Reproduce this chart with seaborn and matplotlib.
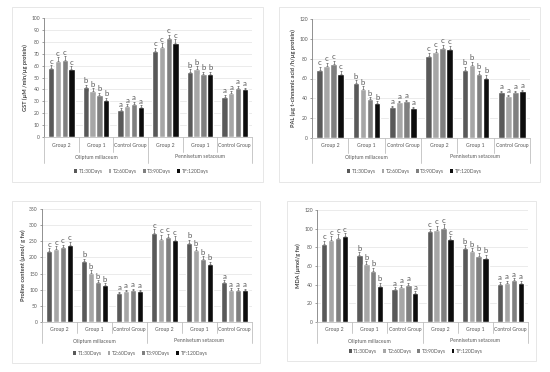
import matplotlib
matplotlib.use("Agg")
import matplotlib.pyplot as plt
import seaborn as sns
import pandas as pd
from matplotlib.patches import Rectangle, Patch
from matplotlib.container import BarContainer

# ---------------- data ----------------
categories = ["Group 2", "Group 1", "Control Group", "Group 2 ", "Group 1 ", "Control Group "]
cat_labels = ["Group 2", "Group 1", "Control Group", "Group 2", "Group 1", "Control Group"]
species = ["Oliptum miliaceum", "Pennisetum setaceum"]
times = ["T1:30Days", "T2:60Days", "T3:90Days", "TF:120Days"]
letters = ["c", "b", "a", "c", "b", "a"]

gst_t1 = [58, 42, 23, 72, 55, 34]
gst_t2 = [64, 39, 26, 76, 57, 37]
gst_t3 = [65, 35, 28, 83, 53, 41]
gst_tf = [57, 31, 25, 79, 53, 40]
gst_err = [[2.5, 2, 1, 3, 2, 1.5], [3, 2, 1.5, 3, 2.5, 1.5], [3, 2, 1.5, 3, 2, 2], [2.5, 2, 1.5, 3, 2, 1.5]]

pal_t1 = [69, 55, 31, 83, 69, 46]
pal_t2 = [73, 49, 36, 87, 74, 42]
pal_t3 = [75, 39, 37, 91, 65, 46]
pal_tf = [65, 35, 30, 90, 61, 47]
pal_err = [[3, 3, 1.5, 3, 3, 1.5], [3, 3, 1.5, 3, 3, 1.5], [3, 2, 1.5, 3, 3, 1.5], [3, 2, 1.5, 3, 3, 1.5]]

pro_t1 = [220, 189, 89, 276, 245, 125]
pro_t2 = [225, 152, 95, 258, 222, 100]
pro_t3 = [232, 123, 98, 263, 195, 100]
pro_tf = [240, 114, 95, 255, 179, 98]
pro_err = [[8, 7, 5, 12, 10, 5], [10, 8, 5, 12, 10, 5], [8, 6, 5, 10, 8, 5], [8, 6, 5, 10, 8, 5]]

mda_t1 = [84, 72, 35, 97, 79, 41]
mda_t2 = [88, 62, 38, 99, 76, 42]
mda_t3 = [90, 55, 40, 101, 71, 45]
mda_tf = [92, 39, 31, 89, 69, 42]
mda_err = [[3, 3, 2, 3, 3, 2], [4, 3, 2, 4, 3, 2], [4, 3, 2, 4, 3, 2], [3, 3, 2, 3, 3, 2]]

palette = {"T1:30Days": "#595959", "T2:60Days": "#a6a6a6",
           "T3:90Days": "#7f7f7f", "TF:120Days": "#0d0d0d"}

# ---------------- figure ----------------
sns.set_theme(style="white")
plt.rcParams["font.family"] = ["Lato", "DejaVu Sans"]

W, H = 550, 372
fig = plt.figure(figsize=(W / 100, H / 100), dpi=100)
fig.patch.set_facecolor("white")


def frac_rect(l, t, r, b):
    return [l / W, 1 - b / H, (r - l) / W, (b - t) / H]


def draw_panel(series, errs, ylabel, ymax, step, ax_box, border, offs):
    l, t, r, b = ax_box
    ax = fig.add_axes(frac_rect(l, t, r, b))
    rows = []
    for tm, vals in zip(times, series):
        for c, v in zip(categories, vals):
            rows.append({"cat": c, "time": tm, "value": v})
    df = pd.DataFrame(rows)
    sns.barplot(data=df, x="cat", y="value", hue="time", order=categories,
                hue_order=times, palette=palette, width=0.78, gap=0.07,
                errorbar=None, ax=ax, zorder=3, legend=False)
    ax.set_xlim(-0.5, len(categories) - 0.5)
    ax.set_ylim(0, ymax)
    ax.set_yticks(range(0, ymax + 1, step))
    ax.tick_params(axis="y", labelsize=3.6, labelcolor="#595959", length=1.5,
                   width=0.4, color="#595959", pad=1.5, left=True)
    ax.set_xticks([])
    ax.set_xlabel("")
    ax.set_ylabel(ylabel, fontsize=4.1, fontweight="bold", color="#404040", labelpad=2)
    ax.yaxis.grid(True, color="#e3e3e3", lw=0.5, zorder=0)
    for s in ["top", "right"]:
        ax.spines[s].set_visible(False)
    ax.spines["left"].set_color("#7f7f7f")
    ax.spines["left"].set_linewidth(0.6)
    ax.spines["bottom"].set_color("#bfbfbf")
    ax.spines["bottom"].set_linewidth(0.6)

    # error bars + letters
    bar_conts = [c for c in ax.containers if isinstance(c, BarContainer)]
    for hi, cont in enumerate(bar_conts):
        for ci, bar in enumerate(cont.patches):
            xc = bar.get_x() + bar.get_width() / 2
            hgt = bar.get_height()
            e = errs[hi][ci]
            ax.errorbar(xc, hgt, yerr=[[0], [e]], fmt="none", ecolor="#404040",
                        elinewidth=0.4, capsize=0.9, capthick=0.4, zorder=4)
            ax.text(xc, hgt + e + ymax * 0.004, letters[ci], ha="center", va="bottom",
                    fontsize=5.6, color="#595959", zorder=5)

    ah = b - t
    tr = ax.get_xaxis_transform()
    short_off, long_off, cat_off, sp_off, leg_off = offs
    # multi-level category axis
    for xb in [0.5, 1.5, 3.5, 4.5]:
        ax.plot([xb, xb], [0, -short_off / ah], color="#bfbfbf", lw=0.6,
                transform=tr, clip_on=False)
    for xb in [-0.5, 2.5, 5.5]:
        ax.plot([xb, xb], [0, -long_off / ah], color="#bfbfbf", lw=0.6,
                transform=tr, clip_on=False)
    for i, lab in enumerate(cat_labels):
        ax.text(i, -cat_off / ah, lab, transform=tr, ha="center", va="center",
                fontsize=3.7, color="#595959")
    for i, sp in enumerate(species):
        ax.text(1 + 3 * i, -sp_off / ah, sp, transform=tr, ha="center", va="center",
                fontsize=3.7, color="#595959")

    handles = [Patch(facecolor=palette[tm], edgecolor="none") for tm in times]
    fig.legend(handles, times, loc="center",
               bbox_to_anchor=((l + r) / 2 / W - 0.012, 1 - (b + leg_off) / H),
               ncol=4, frameon=False, fontsize=3.6, handlelength=0.55,
               handleheight=0.9, handletextpad=0.3, columnspacing=1.2,
               labelcolor="#595959")

    bl, bt, br, bb = border
    fig.patches.append(Rectangle((bl / W, 1 - bb / H), (br - bl) / W, (bb - bt) / H,
                                 transform=fig.transFigure, fill=False,
                                 edgecolor="#e3e3e3", lw=0.6))
    return ax


draw_panel([gst_t1, gst_t2, gst_t3, gst_tf], gst_err,
           "GST (µM /min/µg protein)", 100, 10,
           (44, 18, 252, 137), (12, 7, 263, 182), (15, 26, 9, 20, 34))
draw_panel([pal_t1, pal_t2, pal_t3, pal_tf], pal_err,
           "PAL (µg t-cinnamic acid /h/µg protein)", 120, 20,
           (312, 19, 530, 138), (279, 7, 540, 182), (15, 25, 8, 19, 33))
draw_panel([pro_t1, pro_t2, pro_t3, pro_tf], pro_err,
           "Proline content (µmol/ g fw)", 350, 50,
           (42, 209, 252, 322), (12, 201, 260, 363), (11, 21, 8, 19, 31))
draw_panel([mda_t1, mda_t2, mda_t3, mda_tf], mda_err,
           "MDA (µmol/g fw)", 120, 20,
           (317, 210, 528, 322), (287, 201, 536, 361), (11, 21, 8, 19, 29))

fig.savefig("out.png", dpi=100, facecolor="white")
